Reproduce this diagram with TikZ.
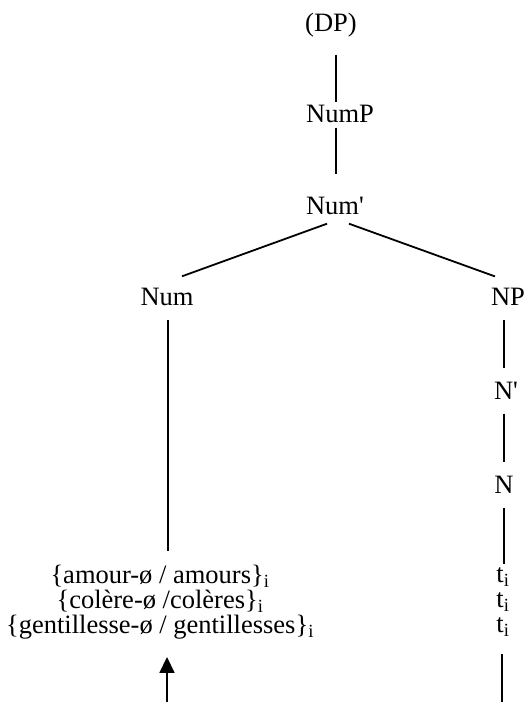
\documentclass[tikz,border=0pt]{standalone}
\usepackage{fontspec}
\setmainfont{Liberation Serif}
\usepackage{tikz}
\usetikzlibrary{arrows.meta}

\begin{document}
\begin{tikzpicture}
   [x=1pt,y=-1pt,line width=1.8pt,
    every node/.style={inner sep=0pt,font=\fontsize{26.5}{25}\selectfont},
    rows/.style={align=center}]
   \useasboundingbox (0,0) rectangle (526,702);

   \node (dp) at (331,25) {(DP)};
   \node (nump) at (340,114) {NumP};
   \node (numbar) at (335,206) {Num\textquotesingle};
   \node (num) at (167,297) {Num};
   \node (np) at (508,297) {NP};
   \node (nbar) at (506,391) {N\textquotesingle};
   \node (n) at (504,485) {N};
   \node[rows] (forms) at (160,602)
      {\{amour-ø / amours\}\textsubscript{i}\\
       \{colère-ø /colères\}\textsubscript{i}\\
       \{gentillesse-ø / gentillesses\}\textsubscript{i}};
   \node[rows] (traces) at (503,602)
      {t\textsubscript{i}\\t\textsubscript{i}\\t\textsubscript{i}};
   \coordinate (source) at (167,702);
   \coordinate (foot) at (502,702);

   \draw[shorten <=17pt,shorten >=2pt] ([xshift=5pt]dp.south) -- ([xshift=-4pt]nump.north);
   \draw[shorten <=4pt,shorten >=22pt] ([xshift=-4pt]nump.south) -- ([xshift=1pt]numbar.north);
   \draw ([shift={(-8,8)}]numbar.south) -- ([shift={(15,-11)}]num.north);
   \draw ([shift={(14,8)}]numbar.south) -- ([shift={(-13,-11)}]np.north);

   \begin{scope}[shorten <=13pt,shorten >=13pt]
      \draw ([xshift=1pt]num.south) -- ([xshift=8pt]forms.north);
      \draw ([xshift=-4pt]np.south) -- ([xshift=-2pt]nbar.north);
      \draw ([xshift=-2pt]nbar.south) -- (n.north);
      \draw[shorten >=3pt] (n.south) -- ([xshift=1pt]traces.north);
   \end{scope}

   \draw[-{Triangle[length=16pt,width=15pt]},shorten >=17pt] (source) -- (source |- forms.south);
   \draw[shorten <=17pt] (traces.south -| foot) -- (foot);
\end{tikzpicture}
\end{document}
